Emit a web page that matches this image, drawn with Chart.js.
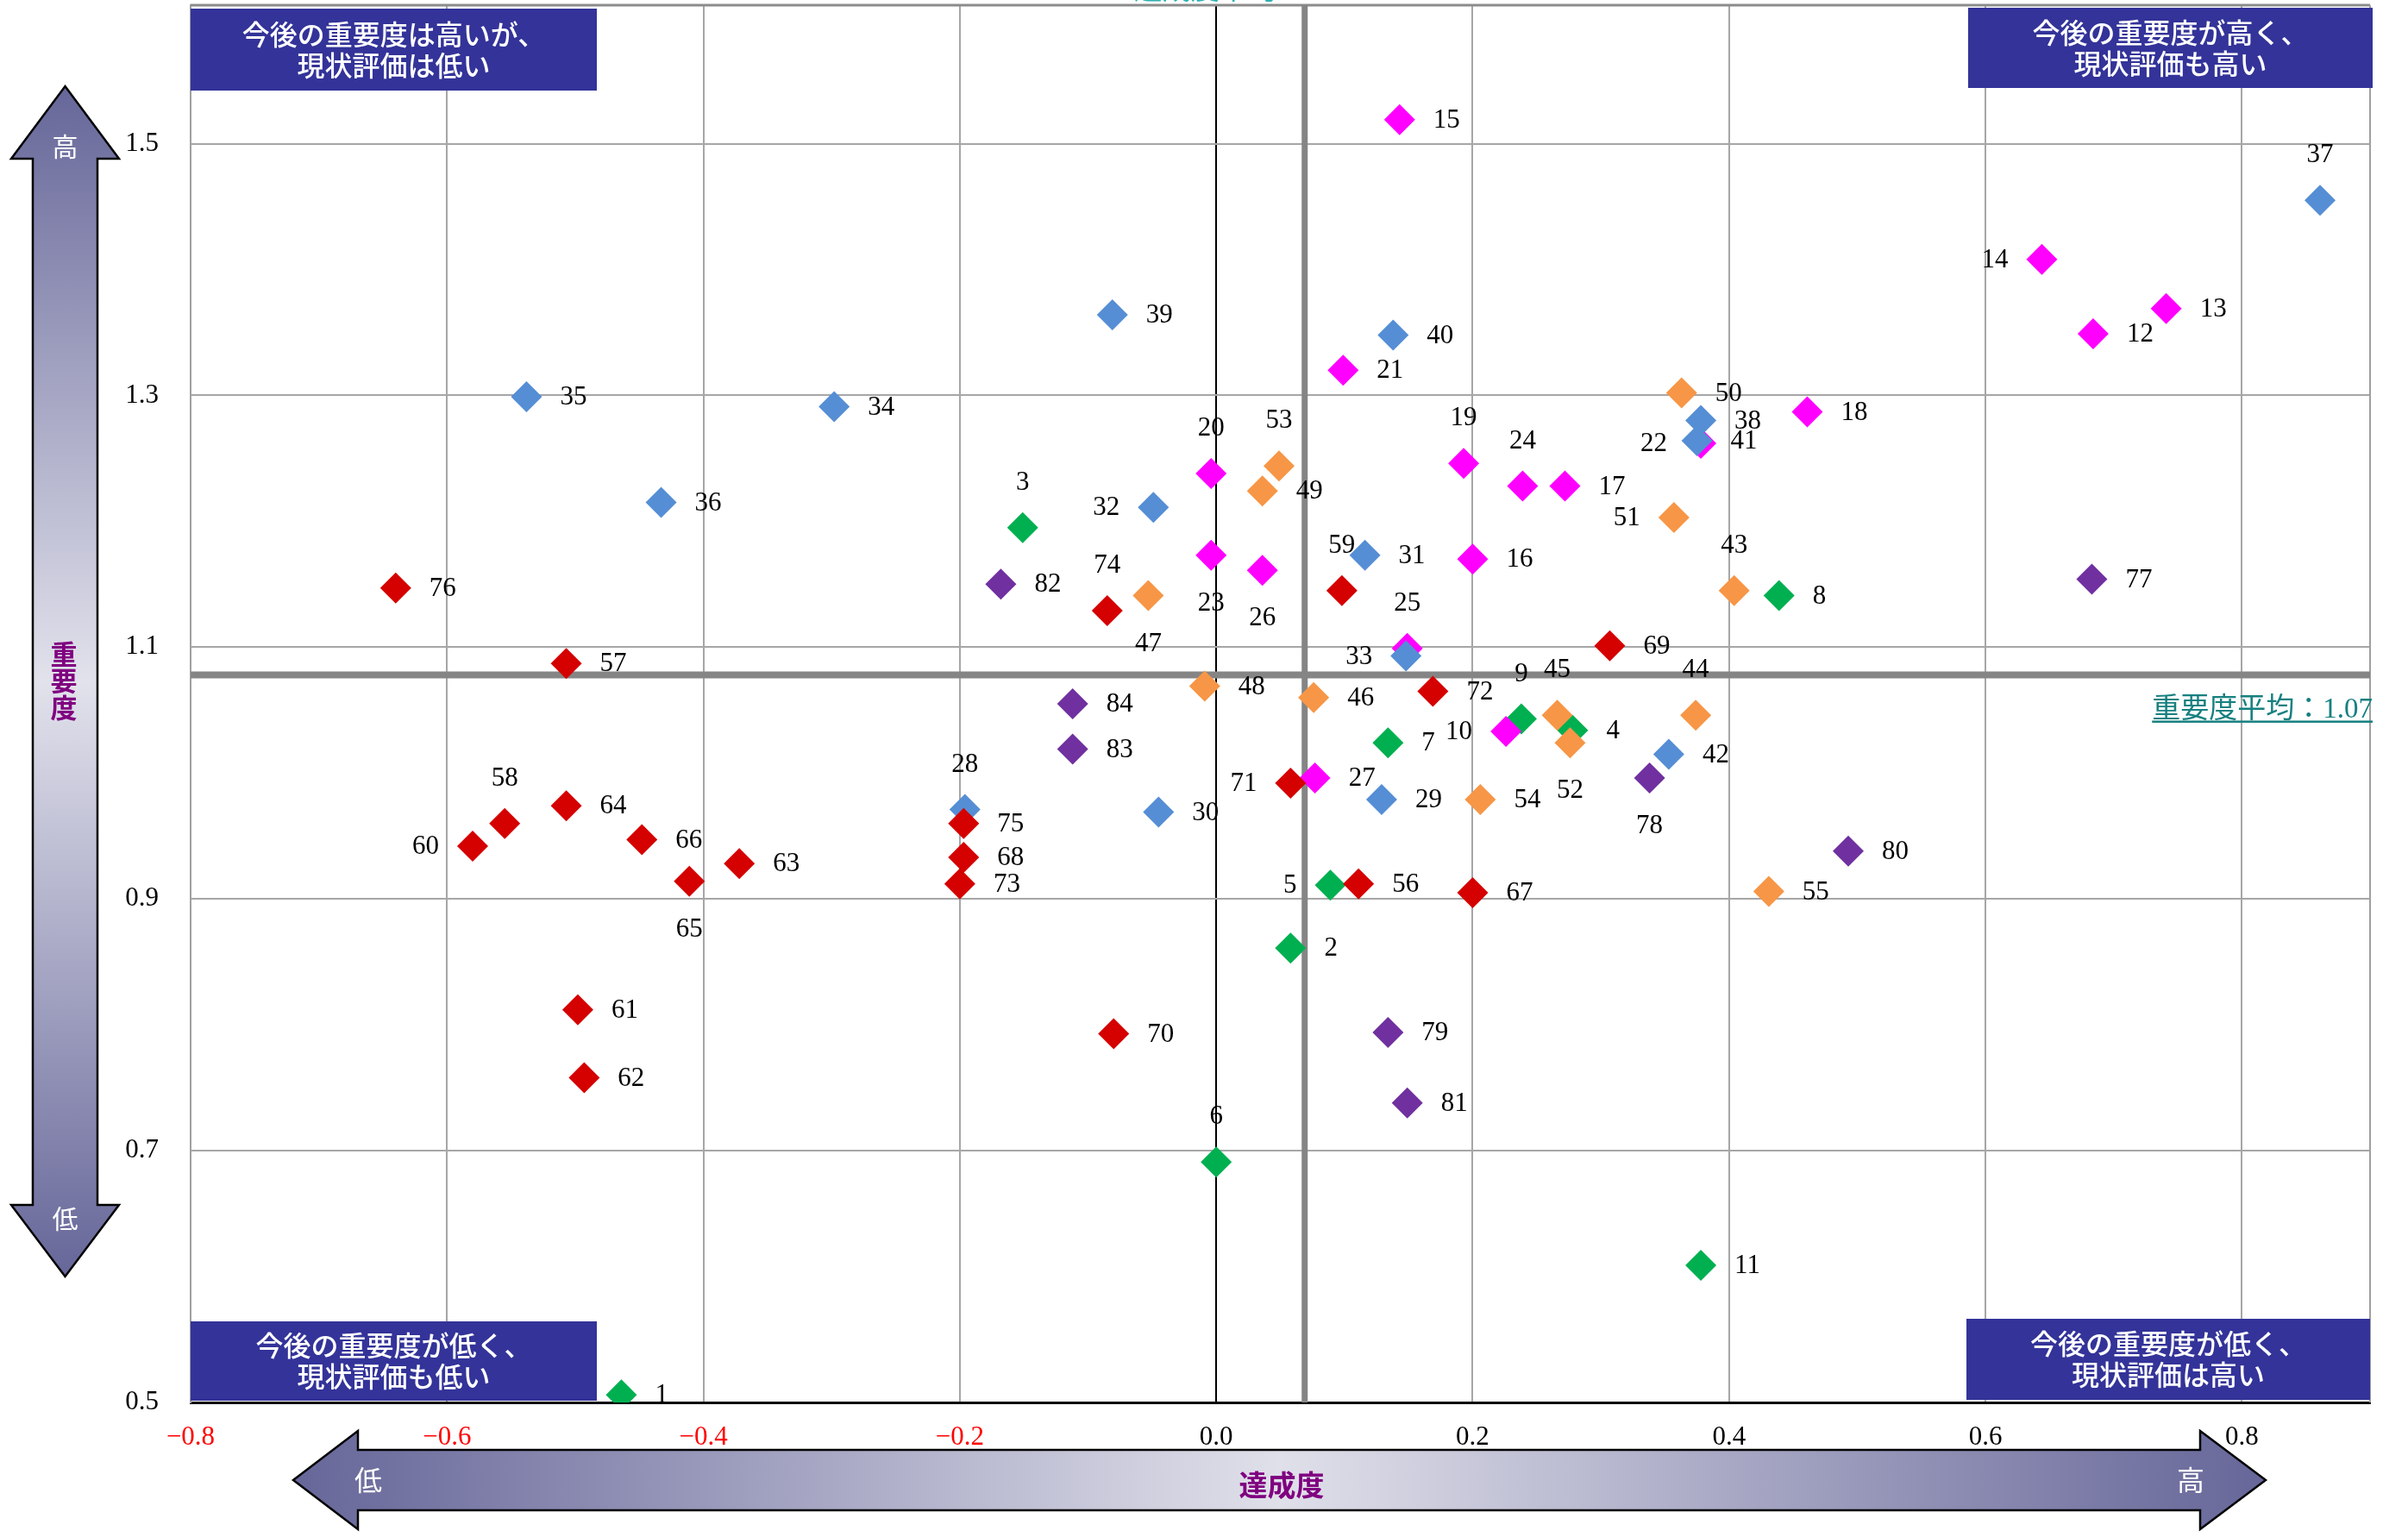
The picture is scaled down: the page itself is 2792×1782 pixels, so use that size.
<!DOCTYPE html>
<html lang="ja">
<head>
<meta charset="utf-8">
<title>重要度・達成度 散布図</title>
<script src="https://cdn.jsdelivr.net/npm/chart.js@4.4.0/dist/chart.umd.min.js"></script>
<style>
  html, body { margin: 0; padding: 0; background: #fff; }
  #chart { display: block; }
</style>
</head>
<body>
<canvas id="chart" width="2792" height="1782"></canvas>
<script>
// item numbers 1..84
const itemNo = [
  1, 2, 3, 4, 5, 6, 7, 8, 9, 10, 11, 12, 13, 14, 15, 16, 17, 18, 19, 20, 21,
  22, 23, 24, 25, 26, 27, 28, 29, 30, 31, 32, 33, 34, 35, 36, 37, 38, 39, 40, 41, 42,
  43, 44, 45, 46, 47, 48, 49, 50, 51, 52, 53, 54, 55, 56, 57, 58, 59, 60, 61, 62, 63,
  64, 65, 66, 67, 68, 69, 70, 71, 72, 73, 74, 75, 76, 77, 78, 79, 80, 81, 82, 83, 84
];
// 達成度 (x)
const achievement = [
  -0.464, 0.058, -0.151, 0.278, 0.089, 0.000, 0.134, 0.439, 0.238, 0.226, 0.378,
  0.684, 0.741, 0.644, 0.143, 0.200, 0.272, 0.461, 0.193, -0.004, 0.099,
  0.378, -0.004, 0.239, 0.149, 0.036, 0.077, -0.196, 0.129, -0.045, 0.116, -0.049,
  0.148, -0.298, -0.538, -0.433, 0.861, 0.378, -0.081, 0.138, 0.375, 0.353,
  0.404, 0.374, 0.266, 0.076, -0.053, -0.009, 0.036, 0.363, 0.357, 0.276, 0.049,
  0.206, 0.431, 0.111, -0.507, -0.555, 0.098, -0.580, -0.498, -0.493, -0.372,
  -0.507, -0.411, -0.448, 0.200, -0.197, 0.307, -0.080, 0.058, 0.169, -0.200,
  -0.085, -0.197, -0.640, 0.683, 0.338, 0.134, 0.493, 0.149, -0.168, -0.112, -0.112
];
// 重要度 (y)
const importance = [
  0.506, 0.861, 1.195, 1.034, 0.911, 0.691, 1.024, 1.141, 1.043, 1.033, 0.609,
  1.349, 1.369, 1.408, 1.519, 1.170, 1.228, 1.287, 1.246, 1.238, 1.320,
  1.262, 1.173, 1.228, 1.099, 1.161, 0.996, 0.971, 0.979, 0.969, 1.173, 1.211,
  1.093, 1.291, 1.299, 1.215, 1.455, 1.280, 1.364, 1.348, 1.264, 1.015,
  1.145, 1.046, 1.046, 1.060, 1.141, 1.069, 1.224, 1.302, 1.203, 1.024, 1.244,
  0.979, 0.906, 0.912, 1.087, 0.960, 1.145, 0.942, 0.812, 0.758, 0.928,
  0.974, 0.914, 0.947, 0.905, 0.933, 1.101, 0.793, 0.992, 1.065, 0.912,
  1.129, 0.960, 1.147, 1.154, 0.996, 0.794, 0.938, 0.738, 1.150, 1.019, 1.055
];
// group of each item (index into groupNames / groupColors)
const itemGroup = [
  0, 0, 0, 0, 0, 0, 0, 0, 0, 1, 0,
  1, 1, 1, 1, 1, 1, 1, 1, 1, 1,
  1, 1, 1, 1, 1, 1, 2, 2, 2, 2, 2,
  2, 2, 2, 2, 2, 2, 2, 2, 2, 2,
  3, 3, 3, 3, 3, 3, 3, 3, 3, 3, 3,
  3, 3, 4, 4, 4, 4, 4, 4, 4, 4,
  4, 4, 4, 4, 4, 4, 4, 4, 4, 4,
  4, 4, 4, 5, 5, 5, 5, 5, 5, 5, 5
];
const groupNames = ['G1', 'G2', 'G3', 'G4', 'G5', 'G6'];
const groupColors = ['#00b050', '#ff00ff', '#558ed5', '#f79646', '#d50000', '#7030a0'];

const xTickValues = [-0.8, -0.6, -0.4, -0.2, 0.0, 0.2, 0.4, 0.6, 0.8];
const yTickValues = [0.5, 0.7, 0.9, 1.1, 1.3, 1.5];

const avgAchievement = 0.069;
const avgImportance = 1.078;

const quadrantTexts = [
  ['今後の重要度は高いが、', '現状評価は低い'],
  ['今後の重要度が高く、', '現状評価も高い'],
  ['今後の重要度が低く、', '現状評価も低い'],
  ['今後の重要度が低く、', '現状評価は高い']
];

// where the number goes relative to its diamond (default: right)
const labelSide = {
  3: 'up', 6: 'up', 9: 'up', 19: 'up', 20: 'up', 24: 'up', 25: 'up', 28: 'up',
  37: 'up', 43: 'up', 44: 'up', 45: 'up', 53: 'up', 58: 'up', 59: 'up', 74: 'up',
  23: 'down', 26: 'down', 47: 'down', 52: 'down', 65: 'down', 78: 'down',
  5: 'left', 10: 'left', 14: 'left', 22: 'left', 32: 'left', 33: 'left',
  51: 'left', 60: 'left', 71: 'left'
};

const serif = "'Liberation Serif', 'Noto Sans CJK JP', serif";
const gothic = "'Noto Sans CJK JP', sans-serif";

const datasets = groupNames.map((name, g) => {
  const idx = itemNo.map((n, i) => i).filter(i => itemGroup[i] === g);
  return {
    label: name,
    data: idx.map(i => ({ x: achievement[i], y: importance[i] })),
    itemNos: idx.map(i => itemNo[i]),
    backgroundColor: groupColors[g],
    borderWidth: 0,
    pointStyle: 'rectRot',
    pointRadius: 18,
    order: groupNames.length - g
  };
});

function fmt(v) {
  return v < 0 ? '\u2212' + Math.abs(v).toFixed(1) : v.toFixed(1);
}

function arrowPath(ctx, pts) {
  ctx.beginPath();
  ctx.moveTo(pts[0][0], pts[0][1]);
  for (let i = 1; i < pts.length; i++) ctx.lineTo(pts[i][0], pts[i][1]);
  ctx.closePath();
}

// background decorations: the two big arrows and their captions
const arrowsPlugin = {
  id: 'arrows',
  beforeDraw(chart) {
    const ctx = chart.ctx;
    ctx.save();
    // vertical double arrow
    let g = ctx.createLinearGradient(0, 100, 0, 1480);
    g.addColorStop(0, '#666699');
    g.addColorStop(0.5, '#e2e2ec');
    g.addColorStop(1, '#666699');
    arrowPath(ctx, [[75.5, 100], [138, 184], [113, 184], [113, 1397], [138, 1397], [75.5, 1480],
      [13, 1397], [38, 1397], [38, 184], [13, 184]]);
    ctx.fillStyle = g;
    ctx.fill();
    ctx.lineWidth = 2.5;
    ctx.strokeStyle = '#000';
    ctx.stroke();
    // horizontal double arrow
    g = ctx.createLinearGradient(340, 0, 2627, 0);
    g.addColorStop(0, '#666699');
    g.addColorStop(0.5, '#e0e0ea');
    g.addColorStop(1, '#666699');
    arrowPath(ctx, [[340, 1716], [415, 1659], [415, 1681], [2551, 1681], [2551, 1659], [2627, 1716],
      [2551, 1773], [2551, 1751], [415, 1751], [415, 1773]]);
    ctx.fillStyle = g;
    ctx.fill();
    ctx.stroke();

    ctx.textAlign = 'center';
    ctx.textBaseline = 'middle';
    ctx.fillStyle = '#fff';
    ctx.font = '30px ' + gothic;
    ctx.fillText('高', 75.5, 170);
    ctx.fillText('低', 75.5, 1413);
    ctx.font = '32px ' + gothic;
    ctx.fillText('低', 427, 1716);
    ctx.fillText('高', 2540, 1716);

    ctx.fillStyle = '#800080';
    ctx.font = 'bold 31px ' + gothic;
    ['重', '要', '度'].forEach((c, i) => ctx.fillText(c, 74, 758 + i * 31));
    ctx.font = 'bold 33px ' + gothic;
    ctx.fillText('達成度', 1486, 1721);
    ctx.restore();
  }
};

// average lines, quadrant boxes, borders
const framePlugin = {
  id: 'frame',
  beforeDatasetsDraw(chart) {
    const ctx = chart.ctx;
    const a = chart.chartArea;
    const xs = chart.scales.x, ys = chart.scales.y;
    ctx.save();
    // top / right borders
    ctx.strokeStyle = '#8c8c8c';
    ctx.lineWidth = 3;
    ctx.beginPath();
    ctx.moveTo(a.left, a.top);
    ctx.lineTo(a.right, a.top);
    ctx.stroke();
    ctx.lineWidth = 2;
    ctx.strokeStyle = '#a0a0a0';
    ctx.beginPath();
    ctx.moveTo(a.right, a.top);
    ctx.lineTo(a.right, a.bottom);
    ctx.stroke();

    // average lines
    ctx.strokeStyle = '#858585';
    const ax = xs.getPixelForValue(avgAchievement);
    const ay = ys.getPixelForValue(avgImportance);
    ctx.lineWidth = 7;
    ctx.beginPath();
    ctx.moveTo(ax, a.top);
    ctx.lineTo(ax, a.bottom);
    ctx.stroke();
    ctx.lineWidth = 8;
    ctx.beginPath();
    ctx.moveTo(a.left, ay);
    ctx.lineTo(a.right, ay);
    ctx.stroke();

    // average captions
    ctx.font = '33px ' + serif;
    ctx.textBaseline = 'alphabetic';
    ctx.textAlign = 'right';
    ctx.fillStyle = '#178080';
    const capY = Math.floor(avgImportance * 100) / 100;
    const t = '重要度平均：' + capY.toFixed(2);
    ctx.fillText(t, a.right + 3, ay + 50);
    const tw = ctx.measureText(t).width;
    ctx.fillRect(a.right + 3 - tw, ay + 53, tw, 2.5);
    ctx.textAlign = 'center';
    ctx.fillStyle = '#2eb2b2';
    const capX = Math.floor(avgAchievement * 100) / 100;
    ctx.fillText('達成度平均：' + capX.toFixed(2), ax - 70, -1);

    // quadrant boxes
    const boxes = [
      [a.left, a.top + 4, 471, 95],
      [a.right - 466, a.top + 3, 469, 93],
      [a.left, a.bottom - 94, 471, 92],
      [a.right - 468, a.bottom - 97, 468, 94]
    ];
    ctx.font = '500 32px ' + gothic;
    ctx.textBaseline = 'middle';
    boxes.forEach((b, i) => {
      ctx.fillStyle = '#333399';
      ctx.fillRect(b[0], b[1], b[2], b[3]);
      ctx.fillStyle = '#fff';
      const cx = b[0] + b[2] / 2, cy = b[1] + b[3] / 2;
      ctx.fillText(quadrantTexts[i][0], cx, cy - 18);
      ctx.fillText(quadrantTexts[i][1], cx, cy + 18);
    });
    ctx.restore();
  },
  afterDatasetsDraw(chart) {
    const ctx = chart.ctx;
    ctx.save();
    ctx.font = '31px ' + serif;
    ctx.fillStyle = '#000';
    ctx.textBaseline = 'middle';
    chart.data.datasets.forEach((ds, di) => {
      chart.getDatasetMeta(di).data.forEach((pt, j) => {
        const n = ds.itemNos[j];
        const side = labelSide[n] || 'right';
        let x = pt.x, y = pt.y;
        if (side === 'right') { ctx.textAlign = 'left'; x += 39; }
        else if (side === 'left') { ctx.textAlign = 'right'; x -= 39; }
        else if (side === 'up') { ctx.textAlign = 'center'; y -= 53; }
        else { ctx.textAlign = 'center'; y += 55; }
        ctx.fillText(String(n), x, y + 1);
      });
    });
    ctx.restore();
  }
};

new Chart(document.getElementById('chart'), {
  type: 'scatter',
  data: { datasets: datasets },
  options: {
    responsive: false,
    devicePixelRatio: 1,
    animation: false,
    events: [],
    layout: { autoPadding: false, padding: { left: 0, top: 6, right: 44, bottom: 0 } },
    plugins: {
      legend: { display: false },
      tooltip: { enabled: false },
      title: { display: false }
    },
    scales: {
      x: {
        type: 'linear',
        min: -0.8,
        max: 0.9,
        afterBuildTicks: s => { s.ticks = xTickValues.map(v => ({ value: v })); },
        afterFit: s => { s.height = 156; s.paddingLeft = 0; s.paddingRight = 0; },
        grid: {
          drawTicks: false,
          lineWidth: 2,
          color: c => (c.tick && c.tick.value === 0 ? '#000000' : '#a6a6a6')
        },
        border: { color: '#000', width: 3 },
        ticks: {
          padding: 22,
          font: { family: serif, size: 31 },
          color: c => (c.tick.value < 0 ? '#ff0000' : '#000000'),
          callback: v => fmt(v)
        }
      },
      y: {
        type: 'linear',
        min: 0.5,
        max: 1.61,
        afterBuildTicks: s => { s.ticks = yTickValues.map(v => ({ value: v })); },
        afterFit: s => { s.width = 221; s.paddingTop = 0; s.paddingBottom = 0; },
        grid: { drawTicks: false, lineWidth: 2, color: '#a6a6a6' },
        border: { color: '#a0a0a0', width: 2 },
        ticks: {
          padding: 37,
          font: { family: serif, size: 31 },
          color: '#000',
          callback: v => v.toFixed(1)
        }
      }
    }
  },
  plugins: [arrowsPlugin, framePlugin]
});
</script>
</body>
</html>
